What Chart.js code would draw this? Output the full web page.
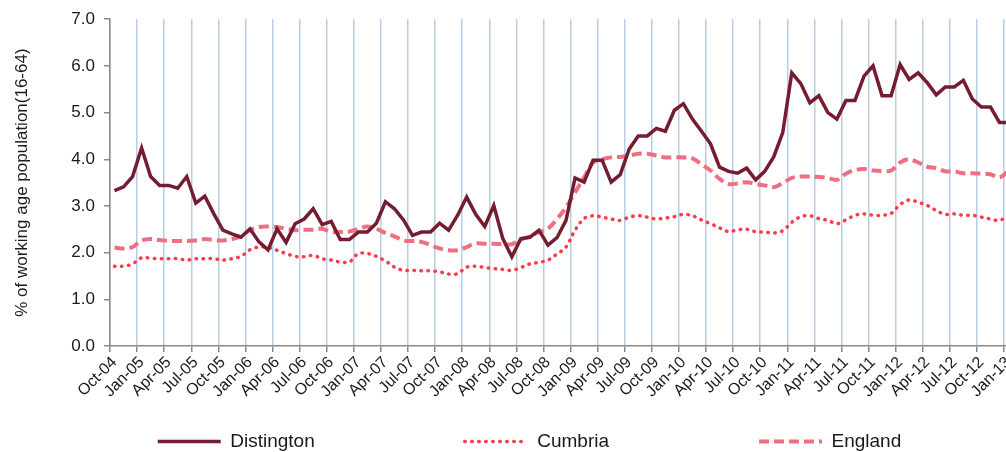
<!DOCTYPE html>
<html>
<head>
<meta charset="utf-8">
<script src="https://cdn.jsdelivr.net/npm/chart.js@4/dist/chart.umd.min.js"></script>
<style>
  html, body { margin: 0; padding: 0; background: #ffffff; overflow: hidden; width: 1006px; height: 452px; }
  #wrap { position: absolute; left: 0; top: 0; width: 1100px; height: 452px; }
</style>
</head>
<body>
<div id="wrap"><canvas id="c"></canvas></div>
<script>
const months = [
  'Oct-04','Nov-04','Dec-04',
  'Jan-05','Feb-05','Mar-05','Apr-05','May-05','Jun-05','Jul-05','Aug-05','Sep-05','Oct-05','Nov-05','Dec-05',
  'Jan-06','Feb-06','Mar-06','Apr-06','May-06','Jun-06','Jul-06','Aug-06','Sep-06','Oct-06','Nov-06','Dec-06',
  'Jan-07','Feb-07','Mar-07','Apr-07','May-07','Jun-07','Jul-07','Aug-07','Sep-07','Oct-07','Nov-07','Dec-07',
  'Jan-08','Feb-08','Mar-08','Apr-08','May-08','Jun-08','Jul-08','Aug-08','Sep-08','Oct-08','Nov-08','Dec-08',
  'Jan-09','Feb-09','Mar-09','Apr-09','May-09','Jun-09','Jul-09','Aug-09','Sep-09','Oct-09','Nov-09','Dec-09',
  'Jan-10','Feb-10','Mar-10','Apr-10','May-10','Jun-10','Jul-10','Aug-10','Sep-10','Oct-10','Nov-10','Dec-10',
  'Jan-11','Feb-11','Mar-11','Apr-11','May-11','Jun-11','Jul-11','Aug-11','Sep-11','Oct-11','Nov-11','Dec-11',
  'Jan-12','Feb-12','Mar-12','Apr-12','May-12','Jun-12','Jul-12','Aug-12','Sep-12','Oct-12','Nov-12','Dec-12',
  'Jan-13'
];

const distington = [
  3.33,3.41,3.63,
  4.24,3.63,3.44,3.44,3.38,3.63,3.06,3.21,2.83,2.48,2.40,2.33,
  2.51,2.23,2.06,2.51,2.22,2.62,2.72,2.94,2.60,2.67,2.28,2.28,
  2.44,2.44,2.63,3.09,2.94,2.70,2.37,2.44,2.44,2.63,2.48,2.80,
  3.19,2.82,2.56,3.01,2.30,1.91,2.30,2.33,2.48,2.16,2.32,2.69,
  3.60,3.51,3.98,3.98,3.51,3.67,4.22,4.50,4.50,4.66,4.60,5.05,
  5.19,4.86,4.60,4.33,3.83,3.74,3.70,3.81,3.56,3.74,4.05,4.57,
  5.85,5.62,5.21,5.36,5.00,4.86,5.26,5.26,5.78,6.00,5.36,5.36,
  6.03,5.71,5.85,5.64,5.38,5.55,5.55,5.69,5.29,5.12,5.12,4.79,
  4.79
];

const cumbria = [
  1.71,1.71,1.76,
  1.89,1.88,1.87,1.87,1.87,1.84,1.87,1.87,1.87,1.84,1.87,1.92,
  2.06,2.12,2.11,2.05,1.98,1.92,1.91,1.94,1.87,1.84,1.80,1.80,
  1.98,1.98,1.92,1.82,1.69,1.62,1.62,1.61,1.61,1.59,1.54,1.55,
  1.69,1.71,1.68,1.66,1.64,1.62,1.68,1.76,1.79,1.84,1.97,2.12,
  2.48,2.73,2.79,2.76,2.72,2.69,2.76,2.79,2.76,2.72,2.74,2.77,
  2.82,2.79,2.70,2.62,2.53,2.45,2.49,2.50,2.45,2.44,2.42,2.47,
  2.65,2.77,2.79,2.73,2.69,2.62,2.70,2.80,2.83,2.80,2.80,2.84,
  3.03,3.13,3.08,3.01,2.90,2.82,2.83,2.80,2.80,2.76,2.72,2.69,
  2.80
];

const england = [
  2.11,2.09,2.12,
  2.26,2.29,2.27,2.25,2.25,2.25,2.26,2.29,2.27,2.26,2.29,2.35,
  2.48,2.55,2.56,2.55,2.51,2.48,2.49,2.49,2.51,2.44,2.44,2.45,
  2.51,2.56,2.51,2.42,2.35,2.26,2.25,2.23,2.16,2.09,2.05,2.05,
  2.12,2.20,2.19,2.19,2.18,2.18,2.28,2.35,2.44,2.51,2.72,2.97,
  3.29,3.61,3.93,4.00,4.04,4.05,4.08,4.12,4.12,4.08,4.04,4.04,
  4.04,4.02,3.89,3.76,3.58,3.47,3.48,3.51,3.47,3.44,3.40,3.49,
  3.60,3.63,3.63,3.62,3.60,3.56,3.69,3.77,3.79,3.76,3.75,3.76,
  3.93,4.00,3.93,3.84,3.81,3.74,3.74,3.70,3.70,3.69,3.68,3.61,
  3.75
];

const yTicks = [0, 1, 2, 3, 4, 5, 6, 7];
const yTitle = '% of working age population(16-64)';
const seriesNames = ['Distington', 'Cumbria', 'England'];

const AXIS = '#8a8a8a';
const GRID = '#b9cde5';
const CLEAR = 'rgba(0,0,0,0)';
const TEXT = '#1a1a1a';
const FONT = "'Liberation Sans', Arial, sans-serif";

const legendPlacer = {
  id: 'legendPlacer',
  afterLayout(chart) {
    const lg = chart.legend;
    const gap = chart.options.plugins.legend.labels.padding;
    lg.top = 432 - gap;
    lg.bottom = 460;
    lg.left = -41;
    lg.right = 1100;
  }
};

new Chart(document.getElementById('c'), {
  type: 'line',
  data: {
    labels: months,
    datasets: [
      {
        label: seriesNames[0],
        data: distington,
        borderColor: '#741c30',
        backgroundColor: '#741c30',
        borderWidth: 3.5,
        pointRadius: 0,
        tension: 0
      },
      {
        label: seriesNames[1],
        data: cumbria,
        borderColor: '#ff3b4b',
        backgroundColor: '#ff3b4b',
        borderWidth: 3.5,
        borderDash: [0.5, 6.5],
        borderCapStyle: 'round',
        pointRadius: 0,
        tension: 0.35
      },
      {
        label: seriesNames[2],
        data: england,
        borderColor: '#ee6f82',
        backgroundColor: '#ee6f82',
        borderWidth: 4,
        borderDash: [10, 5],
        pointRadius: 0,
        tension: 0.35
      }
    ]
  },
  options: {
    responsive: true,
    maintainAspectRatio: false,
    animation: false,
    layout: { padding: { left: 12, top: 18, right: 0, bottom: 0 } },
    plugins: {
      legend: {
        position: 'bottom',
        maxHeight: 50,
        labels: {
          usePointStyle: true,
          pointStyle: 'line',
          pointStyleWidth: 63,
          padding: 150,
          color: TEXT,
          font: { family: FONT, size: 19 },
          generateLabels(chart) {
            const items = Chart.defaults.plugins.legend.labels.generateLabels(chart);
            items.forEach(it => {
              const ds = chart.data.datasets[it.datasetIndex];
              it.lineDash = ds.borderDash || [];
              it.lineWidth = ds.borderWidth;
              it.strokeStyle = ds.borderColor;
              it.fillStyle = ds.borderColor;
              it.lineCap = ds.borderCapStyle || 'butt';
              it.pointStyle = 'line';
            });
            return items;
          }
        }
      },
      tooltip: { enabled: false }
    },
    scales: {
      x: {
        type: 'category',
        offset: true,
        afterFit(scale) { scale.height = 56; },
        grid: {
          offset: true,
          drawOnChartArea: true,
          color: (ctx) => (ctx.index % 3 === 0 ? GRID : CLEAR),
          tickColor: (ctx) => (ctx.index % 3 === 0 ? AXIS : CLEAR),
          lineWidth: 1.5,
          tickLength: 6
        },
        border: { color: AXIS, width: 1.5 },
        ticks: {
          autoSkip: false,
          maxRotation: 45,
          minRotation: 45,
          padding: 1,
          color: TEXT,
          font: { family: FONT, size: 16 },
          callback: (v, i) => (i % 3 === 0 ? months[i] : '')
        }
      },
      y: {
        min: 0,
        max: 7,
        afterFit(scale) { scale.width = 98; },
        afterBuildTicks(scale) { scale.ticks = yTicks.map(v => ({ value: v })); },
        grid: {
          drawOnChartArea: false,
          drawTicks: true,
          tickLength: 6,
          tickColor: AXIS,
          lineWidth: 1.5
        },
        border: { color: AXIS, width: 1.5 },
        ticks: {
          padding: 9,
          color: TEXT,
          font: { family: FONT, size: 17 },
          callback: (v) => Number(v).toFixed(1)
        },
        title: {
          display: true,
          text: yTitle,
          color: TEXT,
          font: { family: FONT, size: 17 },
          padding: { top: 0, bottom: 0 }
        }
      },
      spacer: {
        type: 'linear',
        position: 'right',
        display: true,
        min: 0,
        max: 7,
        afterFit(scale) { scale.width = 87; },
        grid: { display: false, drawTicks: false },
        border: { display: false },
        ticks: { display: false }
      }
    }
  },
  plugins: [legendPlacer]
});
</script>
</body>
</html>
